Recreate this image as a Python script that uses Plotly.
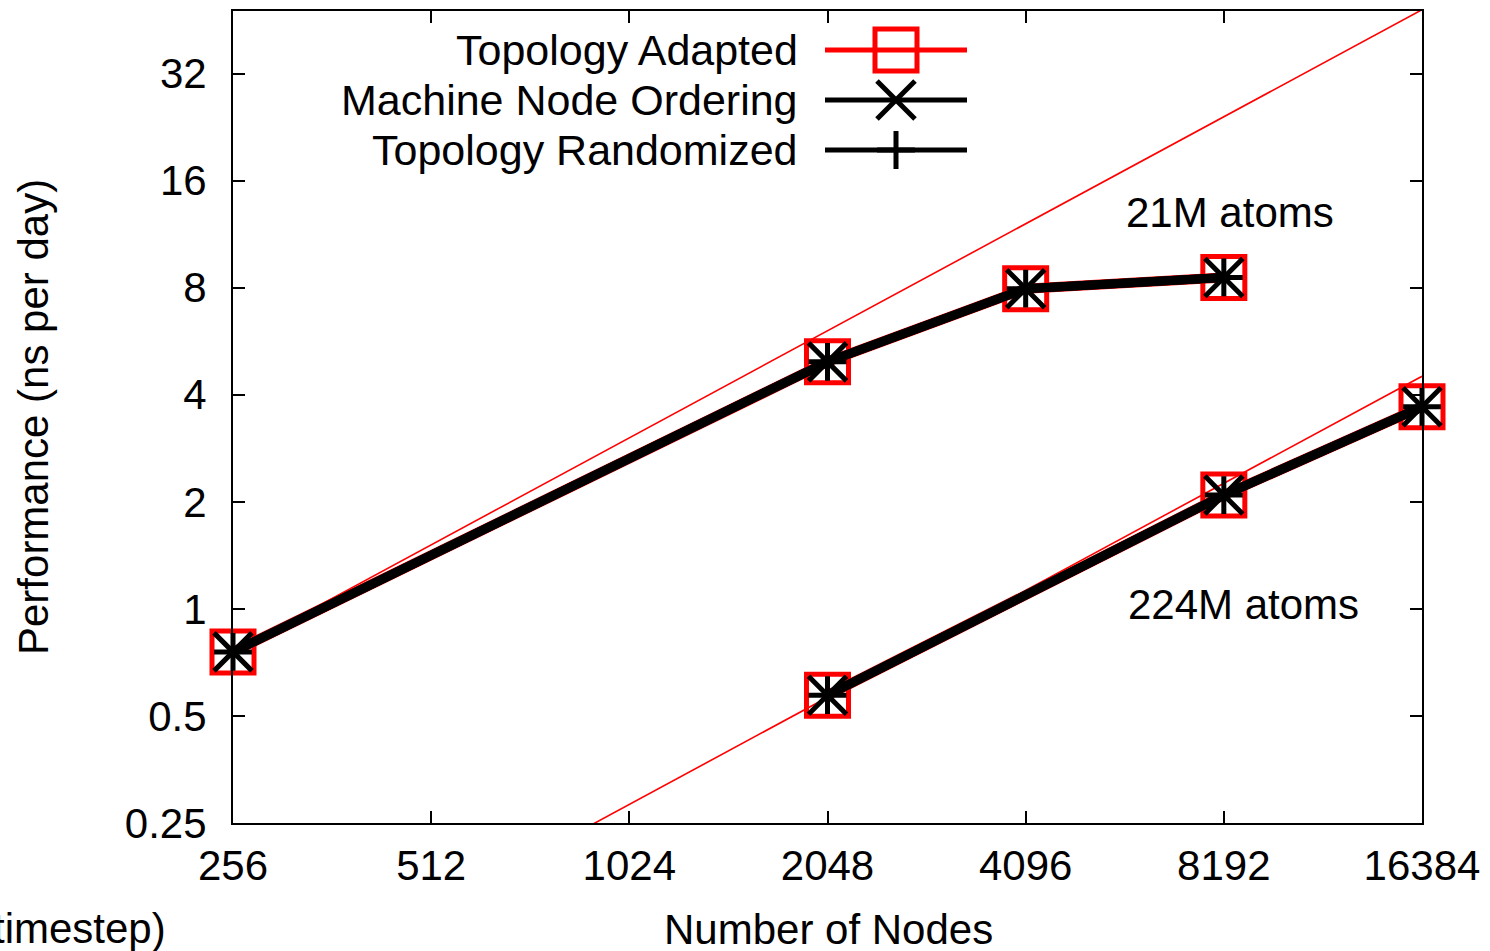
import plotly.graph_objects as go
import math

# ---- data ----
nodes_21m = [256, 2048, 4096, 8192]
perf_21m = [0.757, 4.95, 7.95, 8.55]
nodes_224m = [2048, 8192, 16384]
perf_224m = [0.572, 2.09, 3.70]
ideal_21m_x = [256, 16384]
ideal_21m_y = [0.757, 48.4]
ideal_224m_x = [512, 16384]
ideal_224m_y = [0.141, 4.51]
series_names = ["Topology Adapted", "Machine Node Ordering", "Topology Randomized"]
x_ticks = [256, 512, 1024, 2048, 4096, 8192, 16384]
x_labels = ["256", "512", "1024", "2048", "4096", "8192", "16384"]
y_ticks = [0.25, 0.5, 1, 2, 4, 8, 16, 32]
y_labels = ["0.25", "0.5", "1", "2", "4", "8", "16", "32"]

FONT = "Liberation Sans, Arial, Helvetica, sans-serif"
FS = 42
RED = "#ff0000"
BLACK = "#000000"

styles = [
    dict(color=RED, lw=10, symbol="square-open", size=42, mlw=5),
    dict(color=BLACK, lw=9, symbol="x-thin-open", size=38, mlw=5),
    dict(color=BLACK, lw=9, symbol="cross-thin-open", size=27, mlw=5),
]

fig = go.Figure()

# ideal scaling lines
for xs, ys in [(ideal_21m_x, ideal_21m_y), (ideal_224m_x, ideal_224m_y)]:
    fig.add_trace(go.Scatter(x=xs, y=ys, mode="lines", line=dict(color=RED, width=1.6),
                             showlegend=False, hoverinfo="skip"))

for name, st in zip(series_names, styles):
    for xs, ys in [(nodes_21m, perf_21m), (nodes_224m, perf_224m)]:
        fig.add_trace(go.Scatter(
            x=xs, y=ys, mode="lines+markers", name=name, showlegend=False,
            line=dict(color=st["color"], width=st["lw"]),
            marker=dict(symbol=st["symbol"], size=st["size"], color=st["color"],
                        line=dict(color=st["color"], width=st["mlw"])),
            cliponaxis=False))

# page geometry (body margin removed by post_script)
L, R, T, B = 233, 1422, 11, 823
W, H = 1490, 951

def px(xp):
    return (xp - L) / (R - L)
def py(yp):
    return (B - yp) / (B - T)

leg_rows = [50, 100, 150]
leg_text_right = 800
leg_line = (825, 967)
leg_mark = 896
for name, st, yr in zip(series_names, styles, leg_rows):
    fig.add_annotation(text=name, x=px(leg_text_right), y=py(yr), xref="paper", yref="paper",
                       xanchor="right", yanchor="middle", showarrow=False,
                       font=dict(family=FONT, size=43, color="black"))
    fig.add_trace(go.Scatter(x=[px(leg_line[0]), px(leg_line[1])], y=[py(yr), py(yr)],
                             xaxis="x2", yaxis="y2", mode="lines",
                             line=dict(color=st["color"], width=5),
                             showlegend=False, hoverinfo="skip", cliponaxis=False))
    fig.add_trace(go.Scatter(x=[px(leg_mark)], y=[py(yr)], xaxis="x2", yaxis="y2", mode="markers",
                             marker=dict(symbol=st["symbol"], size=st["size"], color=st["color"],
                                         line=dict(color=st["color"], width=st["mlw"])),
                             showlegend=False, hoverinfo="skip", cliponaxis=False))

def label(text, xp, yp, **kw):
    d = dict(text=text, x=px(xp), y=py(yp), xref="paper", yref="paper",
             xanchor="center", yanchor="middle", showarrow=False,
             font=dict(family=FONT, size=FS, color="black"))
    d.update(kw)
    fig.add_annotation(**d)

label("21M atoms", 1230, 213)
label("224M atoms", 1243, 604)
label("Number of Nodes", 828, 930)
label("Performance (ns per day)", 33, 417, textangle=-90)
label("timestep)", 168, 928, xanchor="right")

axis_common = dict(showgrid=False, zeroline=False, showline=True, linecolor="black", linewidth=2,
                   mirror="ticks", ticks="inside", ticklen=12, tickwidth=2, tickcolor="black",
                   tickfont=dict(family=FONT, size=FS, color="black"))

EPS = 1e-6
fig.update_layout(
    width=W, height=H,
    margin=dict(l=L, r=W - R, t=T, b=H - B, autoexpand=False),
    paper_bgcolor="white", plot_bgcolor="white",
    showlegend=False,
    hovermode=False,
    xaxis=dict(type="log", range=[math.log10(256) - EPS, math.log10(16384) + EPS],
               tickvals=x_ticks, ticktext=x_labels, ticklabelstandoff=5, **axis_common),
    yaxis=dict(type="log", range=[math.log10(0.25), math.log10(48)],
               tickvals=y_ticks, ticktext=y_labels, ticklabelstandoff=16, **axis_common),
    xaxis2=dict(overlaying="x", range=[0, 1], visible=False),
    yaxis2=dict(overlaying="y", range=[0, 1], visible=False),
)

fig.write_html("out.html", config={"displayModeBar": False},
               post_script="document.body.style.margin='0';document.body.style.overflow='hidden';")
